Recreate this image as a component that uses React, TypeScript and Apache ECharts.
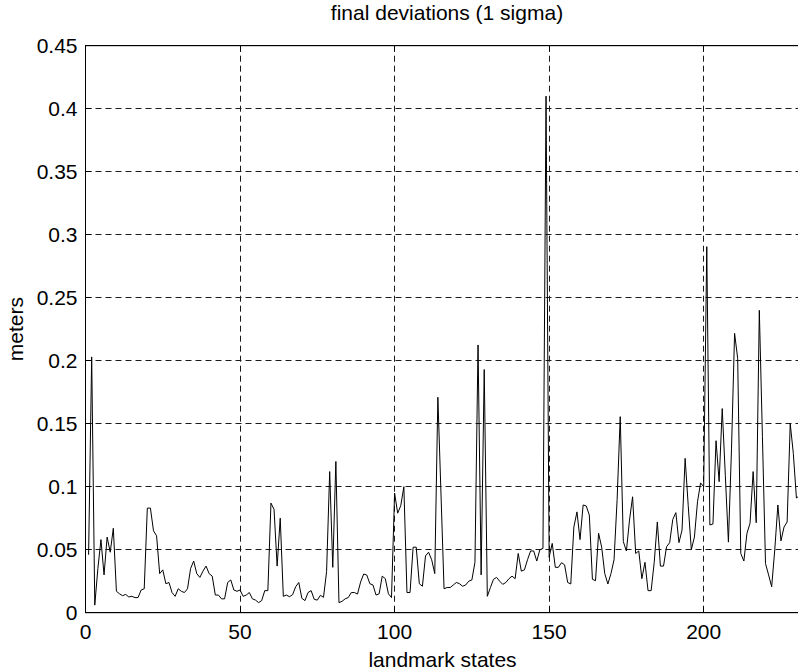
import React, { useEffect, useRef } from "react";
import * as echarts from "echarts";

// 1-sigma deviation of each landmark state, in meters (state 1 .. 231)
const deviations: number[] = [
  0.046, 0.203, 0.006, 0.035, 0.058, 0.030, 0.060, 0.048, 0.067, 0.017,
  0.015, 0.0135, 0.0145, 0.0125, 0.013, 0.012, 0.012, 0.018, 0.019, 0.083,
  0.083, 0.065, 0.061, 0.031, 0.034, 0.023, 0.024, 0.016, 0.013, 0.019,
  0.017, 0.016, 0.019, 0.035, 0.041, 0.031, 0.028, 0.033, 0.037, 0.031,
  0.029, 0.014, 0.014, 0.011, 0.011, 0.024, 0.026, 0.018, 0.017, 0.018,
  0.013, 0.014, 0.016, 0.011, 0.010, 0.008, 0.0096, 0.0175, 0.0175, 0.087,
  0.082, 0.037, 0.075, 0.013, 0.014, 0.0127, 0.0143, 0.0206, 0.024, 0.0114,
  0.0096, 0.016, 0.0175, 0.0106, 0.010, 0.0138, 0.0122, 0.0326, 0.112, 0.036,
  0.120, 0.008, 0.009, 0.011, 0.012, 0.016, 0.016, 0.0148, 0.0243, 0.0307,
  0.0299, 0.023, 0.022, 0.014, 0.015, 0.029, 0.027, 0.015, 0.012, 0.095,
  0.079, 0.085, 0.100, 0.016, 0.016, 0.052, 0.052, 0.023, 0.021, 0.045,
  0.048, 0.042, 0.031, 0.171, 0.095, 0.019, 0.020, 0.020, 0.022, 0.024,
  0.023, 0.021, 0.022, 0.025, 0.026, 0.040, 0.2125, 0.030, 0.193, 0.013,
  0.020, 0.0265, 0.028, 0.025, 0.0225, 0.024, 0.027, 0.029, 0.027, 0.047,
  0.033, 0.034, 0.042, 0.049, 0.049, 0.041, 0.050, 0.051, 0.410, 0.044,
  0.055, 0.036, 0.036, 0.0397, 0.038, 0.024, 0.0228, 0.068, 0.080, 0.058,
  0.0855, 0.0847, 0.0775, 0.0265, 0.0254, 0.063, 0.052, 0.031, 0.0228, 0.031,
  0.042, 0.090, 0.1556, 0.0564, 0.049, 0.0735, 0.092, 0.047, 0.049, 0.027,
  0.040, 0.0175, 0.0175, 0.040, 0.072, 0.037, 0.037, 0.0524, 0.0556, 0.074,
  0.0794, 0.0556, 0.0656, 0.1225, 0.085, 0.050, 0.060, 0.088, 0.103, 0.100,
  0.2905, 0.0696, 0.0704, 0.1365, 0.104, 0.162, 0.109, 0.056, 0.130, 0.2217,
  0.2018, 0.047, 0.041, 0.063, 0.071, 0.112, 0.0714, 0.240, 0.140, 0.039,
  0.030, 0.0206, 0.050, 0.0855, 0.057, 0.068, 0.072, 0.150, 0.1265, 0.091,
  0.093,
];

const xTicks = { min: 0, max: 231, interval: 50 };
const yTicks = { min: 0, max: 0.45, interval: 0.05 };

const FONT = "'Liberation Sans', Arial, Helvetica, sans-serif";
const FONT_SIZE = 21;

export default function App() {
  const ref = useRef<HTMLDivElement>(null);

  useEffect(() => {
    if (!ref.current) return;
    const chart = echarts.init(ref.current, undefined, { renderer: "svg" });

    const points = deviations.map((v, i) => [i + 1, v]);

    const gridLine = { show: true, lineStyle: { color: "#1a1a1a", width: 1, type: [6, 4] as number[] } };
    const tickInside = { show: true, inside: true, length: 6, lineStyle: { color: "#000", width: 1 } };
    const text = { fontFamily: FONT, fontSize: FONT_SIZE, color: "#000" };

    chart.setOption({
      animation: false,
      backgroundColor: "#fff",
      title: {
        text: "final deviations (1 sigma)",
        left: 447,
        top: 2,
        padding: 0,
        textAlign: "center",
        textStyle: { ...text, fontWeight: "normal" },
      },
      grid: {
        left: 85.5,
        top: 45.7,
        width: 714,
        height: 567,
        outerBoundsMode: "none",
        containLabel: false,
        show: true,
        borderColor: "#000",
        borderWidth: 1,
        backgroundColor: "transparent",
      },
      xAxis: [
        {
          type: "value",
          min: xTicks.min,
          max: xTicks.max,
          interval: xTicks.interval,
          name: "landmark states",
          nameLocation: "middle",
          nameGap: 36,
          nameTextStyle: text,
          axisLine: { show: true, lineStyle: { color: "#000", width: 1 } },
          axisTick: tickInside,
          axisLabel: { ...text, margin: 8, showMaxLabel: false },
          splitLine: gridLine,
        },
        {
          type: "value",
          position: "top",
          min: xTicks.min,
          max: xTicks.max,
          interval: xTicks.interval,
          axisLine: { show: true, lineStyle: { color: "#000", width: 1 } },
          axisTick: tickInside,
          axisLabel: { show: false },
          splitLine: { show: false },
        },
      ],
      yAxis: {
        type: "value",
        min: yTicks.min,
        max: yTicks.max,
        interval: yTicks.interval,
        name: "meters",
        nameLocation: "middle",
        nameGap: 57,
        nameTextStyle: text,
        axisLine: { show: true, lineStyle: { color: "#000", width: 1 } },
        axisTick: tickInside,
        axisLabel: {
          ...text,
          margin: 8,
          formatter: (v: number) => String(parseFloat(v.toFixed(2))),
        },
        splitLine: gridLine,
      },
      series: [
        {
          type: "line",
          data: points,
          xAxisIndex: 0,
          showSymbol: false,
          clip: true,
          lineStyle: { color: "#000", width: 1 },
        },
      ],
    });

    return () => chart.dispose();
  }, []);

  return (
    <div
      ref={ref}
      style={{ position: "fixed", left: 0, top: 0, width: 798, height: 672, background: "#fff" }}
    />
  );
}
